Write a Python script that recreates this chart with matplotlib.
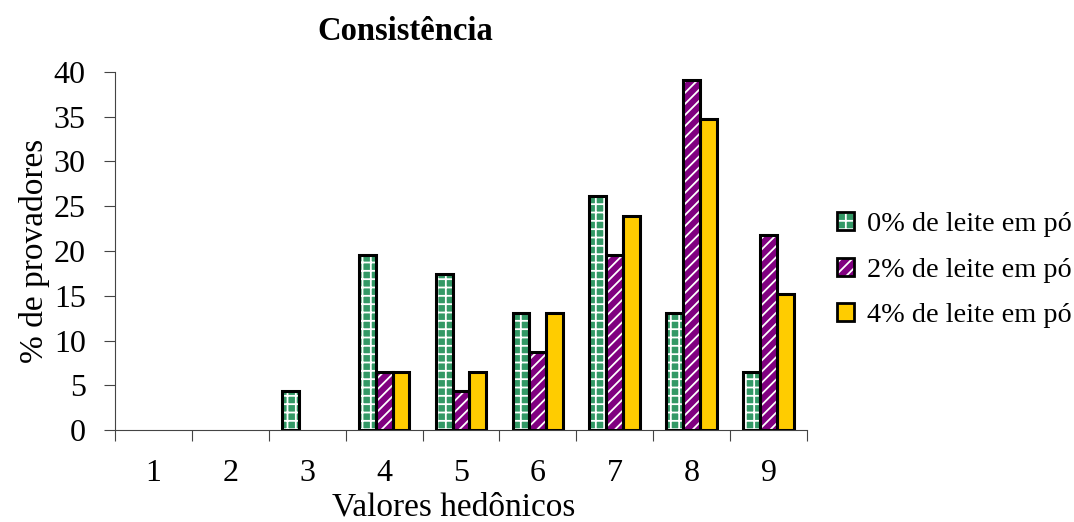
import matplotlib
matplotlib.use("Agg")
import matplotlib.pyplot as plt
from matplotlib.patches import Patch
import numpy as np

categories = ["1", "2", "3", "4", "5", "6", "7", "8", "9"]
series_names = ["0% de leite em pó", "2% de leite em pó", "4% de leite em pó"]
vals_0 = [0, 0, 4.35, 19.57, 17.39, 13.04, 26.09, 13.04, 6.52]
vals_2 = [0, 0, 0, 6.52, 4.35, 8.70, 19.57, 39.13, 21.74]
vals_4 = [0, 0, 0, 6.52, 6.52, 13.04, 23.91, 34.78, 15.22]
yticks = [0, 5, 10, 15, 20, 25, 30, 35, 40]

colors = ["#339966", "#800080", "#FFCC00"]
hatches = ["++", "///", ""]

plt.rcParams['font.family'] = ['Liberation Serif', 'DejaVu Serif']
plt.rcParams['hatch.linewidth'] = 1.3

fig = plt.figure(figsize=(10.74, 5.22), dpi=100)
ax = fig.add_axes([115/1074, 92/522, (807-115)/1074, (430-72)/522])

x = np.arange(1, len(categories) + 1)
w = 0.22
offsets = [-w, 0, w]
handles = []
for vals, off, c, h, name in zip([vals_0, vals_2, vals_4], offsets, colors, hatches, series_names):
    v = np.array(vals, dtype=float)
    v[v == 0] = np.nan
    ax.bar(x + off, v, width=w, color=c, edgecolor="white", hatch=h, linewidth=0, zorder=2)
    ax.bar(x + off, v, width=w, facecolor="none", edgecolor="black", linewidth=2.2, zorder=3)
    p1 = Patch(facecolor=c, edgecolor="white", hatch=h, linewidth=0)
    p2 = Patch(facecolor="none", edgecolor="black", linewidth=2.0)
    handles.append((p1, p2))

ax.set_xlim(0.5, 9.5)
ax.set_ylim(0, 40)
ax.set_yticks(yticks)
ax.set_xticks(np.arange(0.5, 10.0, 1.0))
ax.set_xticklabels([])
ax.set_xticks(x, minor=True)
ax.set_xticklabels(categories, minor=True)
ax.tick_params(axis="x", which="minor", length=0, pad=21, labelsize=23)
ax.tick_params(axis="x", which="major", length=8, direction="out", color="#444444")
ax.tick_params(axis="y", length=8, direction="out", pad=13, labelsize=23, color="#444444")
for s in ["top", "right"]:
    ax.spines[s].set_visible(False)
ax.spines["left"].set_color("#444444")
ax.spines["bottom"].set_color("#444444")

ax.set_ylabel("% de provadores", fontsize=24, labelpad=3)
fig.text(454/1074, 1 - 507/522, "Valores hedônicos", fontsize=24, ha="center", va="center")
fig.text(405/1074, 1 - 31/522, "Consistência", fontsize=23.5, fontweight="bold",
         ha="center", va="center")

leg = fig.legend(handles=handles, labels=series_names, loc="center left",
                 bbox_to_anchor=(837/1074, 1 - 270/522),
                 frameon=False, fontsize=20.3, handlelength=0.6, handleheight=0.6,
                 handletextpad=0.45, labelspacing=0.74, borderpad=0.0, borderaxespad=0.0)

fig.savefig("out.png", dpi=100)
